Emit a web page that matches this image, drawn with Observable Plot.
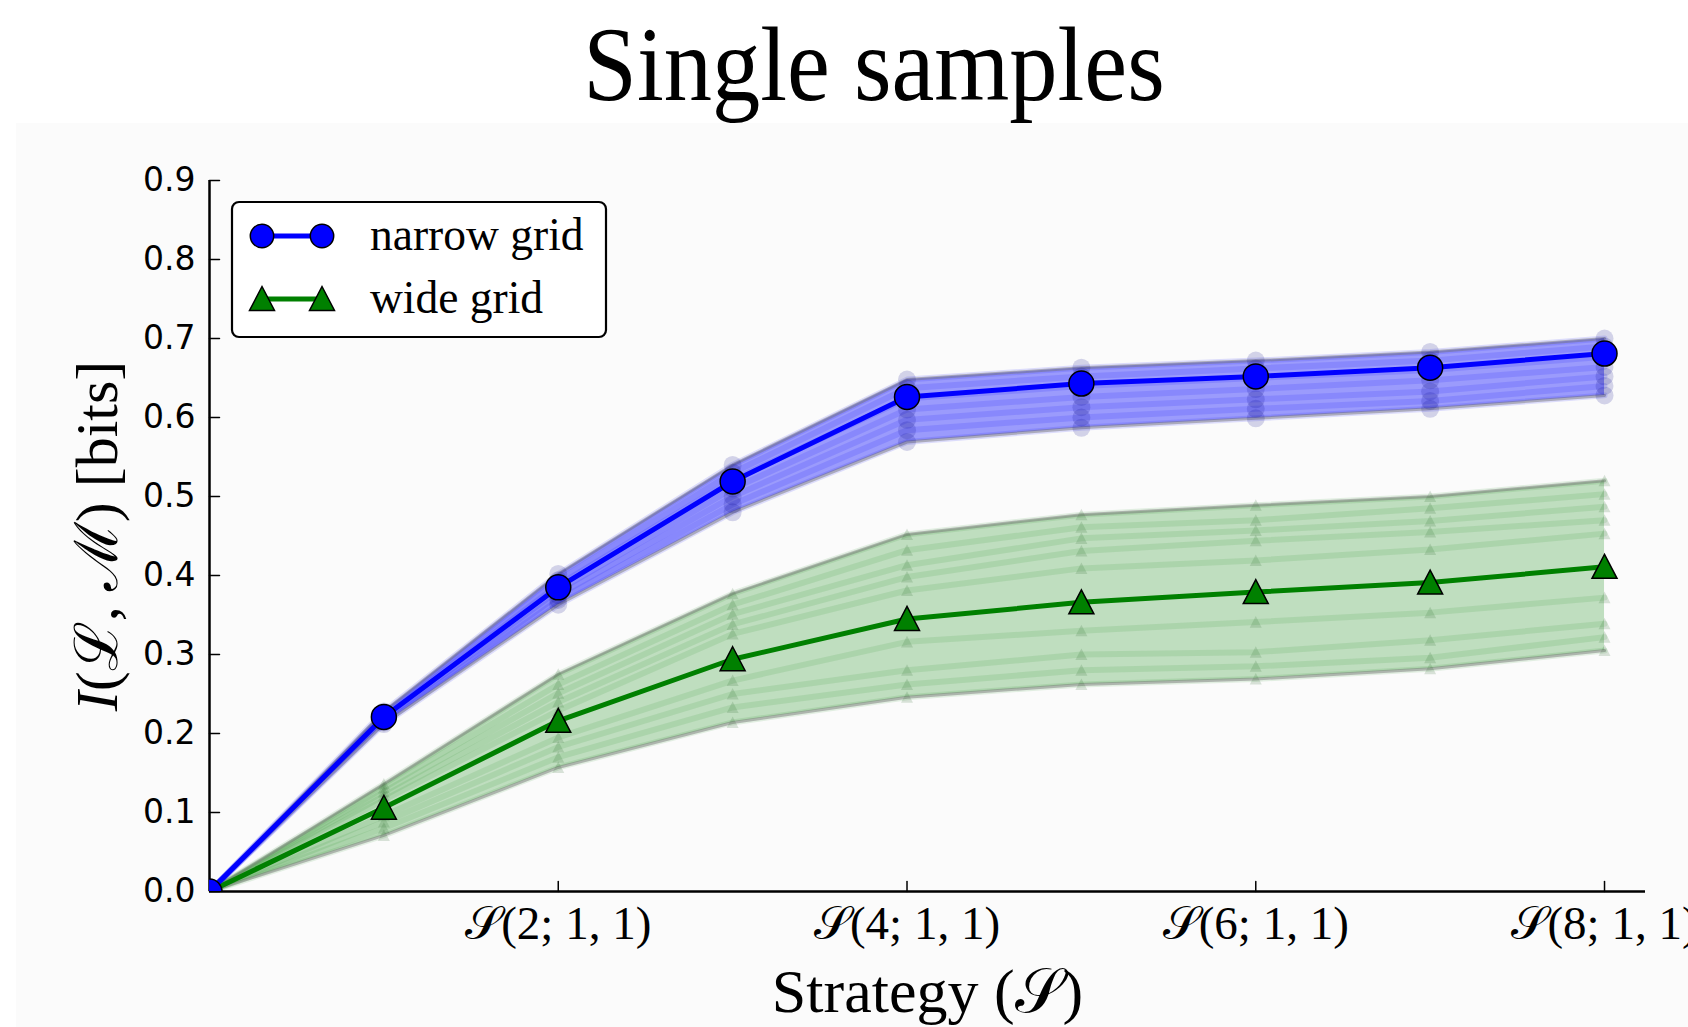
<!DOCTYPE html>
<html>
<head>
<meta charset="utf-8">
<script src="https://cdn.jsdelivr.net/npm/d3@7"></script>
<script src="https://cdn.jsdelivr.net/npm/@observablehq/plot@0.6"></script>
<style>
  html, body { margin: 0; padding: 0; background: #ffffff; }
  #wrap { position: relative; width: 1688px; height: 1027px; overflow: hidden; background: #ffffff; }
  #bgpanel { position: absolute; left: 16px; top: 123px; right: 0; bottom: 0; background: #fbfbfb; }
  #title { position: absolute; left: 874px; top: 12px; transform: translateX(-50%) scaleX(0.91); transform-origin: center; white-space: nowrap;
           font-family: "Liberation Serif", "DejaVu Serif", serif; font-size: 106px; line-height: 106px; color: #000; }
  #chart { position: absolute; left: 0; top: 140px; }
  #legend { position: absolute; left: 231px; top: 201px; }
  svg { overflow: visible; }
</style>
</head>
<body>
<div id="wrap">
  <div id="bgpanel"></div>
  <div id="title"></div>
  <div id="chart"></div>
  <div id="legend"></div>
</div>
<script>
// ---------------- data ----------------
const strategies = [0, 1, 2, 3, 4, 5, 6, 7, 8];
const seriesNames = ["narrow grid", "wide grid"];
const seriesColors = ["#0000ff", "#008000"];

// mean curves (bold lines with markers)
const narrowGrid = [0, 0.221, 0.385, 0.519, 0.626, 0.643, 0.652, 0.663, 0.681];
const wideGrid   = [0, 0.106, 0.216, 0.294, 0.345, 0.366, 0.379, 0.391, 0.411];

// faint individual sample curves (read approximately from the band)
const narrowSamples = [
  [0, 0.228, 0.402, 0.540, 0.648, 0.663, 0.672, 0.683, 0.700],
  [0, 0.225, 0.394, 0.530, 0.637, 0.652, 0.662, 0.672, 0.690],
  [0, 0.222, 0.388, 0.521, 0.624, 0.640, 0.650, 0.660, 0.677],
  [0, 0.219, 0.381, 0.510, 0.610, 0.626, 0.636, 0.647, 0.664],
  [0, 0.216, 0.375, 0.500, 0.597, 0.613, 0.623, 0.633, 0.652],
  [0, 0.214, 0.369, 0.490, 0.584, 0.600, 0.611, 0.621, 0.640],
  [0, 0.212, 0.363, 0.480, 0.569, 0.587, 0.599, 0.611, 0.628]
];
const wideSamples = [
  [0, 0.136, 0.275, 0.377, 0.452, 0.477, 0.489, 0.500, 0.520],
  [0, 0.131, 0.262, 0.363, 0.432, 0.461, 0.470, 0.485, 0.503],
  [0, 0.126, 0.251, 0.351, 0.413, 0.447, 0.457, 0.469, 0.487],
  [0, 0.121, 0.240, 0.338, 0.398, 0.431, 0.444, 0.455, 0.470],
  [0, 0.116, 0.229, 0.326, 0.381, 0.409, 0.419, 0.433, 0.453],
  [0, 0.096, 0.195, 0.267, 0.316, 0.330, 0.341, 0.353, 0.372],
  [0, 0.088, 0.183, 0.250, 0.280, 0.300, 0.303, 0.318, 0.339],
  [0, 0.080, 0.170, 0.233, 0.262, 0.280, 0.285, 0.296, 0.322],
  [0, 0.071, 0.157, 0.214, 0.246, 0.262, 0.269, 0.282, 0.305]
];

const xTickValues = [2, 4, 6, 8];
const xTickLabels = ["𝒮(2; 1, 1)", "𝒮(4; 1, 1)", "𝒮(6; 1, 1)", "𝒮(8; 1, 1)"];
const yTickValues = [0, 0.1, 0.2, 0.3, 0.4, 0.5, 0.6, 0.7, 0.8, 0.9];
const yTickLabels = ["0.0", "0.1", "0.2", "0.3", "0.4", "0.5", "0.6", "0.7", "0.8", "0.9"];
const titleText = "Single samples";
const xLabelText = "Strategy (𝒮)";
const yLabelText = "I(ℒ, ℳ) [bits]";

// ---------------- helpers ----------------
const serif = "'Liberation Serif', 'DejaVu Serif', serif";
const sans = "'DejaVu Sans', sans-serif";

const meanRows = (vals) => vals.map((v, i) => ({x: strategies[i], y: v}));
const sampleRows = (samples, name) => samples.flatMap((vals, k) => vals.map((v, i) => ({x: strategies[i], y: v, k: name + k})));
const bandRows = (samples) => strategies.map((s, i) => ({x: s, lo: d3.min(samples, r => r[i]), hi: d3.max(samples, r => r[i])}));

const triangleUp = {
  draw(context, size) {
    const r = Math.sqrt(size / Math.PI);
    context.moveTo(0, -r);
    context.lineTo(r, r * 0.92);
    context.lineTo(-r, r * 0.92);
    context.closePath();
  }
};
const tickShape = { draw(context, l) { context.moveTo(0, 0); context.lineTo(0, -l); } };

const narrowMean = meanRows(narrowGrid);
const wideMean = meanRows(wideGrid);
const narrowS = sampleRows(narrowSamples, "n");
const wideS = sampleRows(wideSamples, "w");
const narrowBand = bandRows(narrowSamples);
const wideBand = bandRows(wideSamples);

const [blue, green] = seriesColors;

const plot = Plot.plot({
  width: 1688,
  height: 887,
  marginLeft: 209,
  marginRight: 43,
  marginTop: 40,
  marginBottom: 136,
  x: {domain: [0, 8.235], axis: null},
  y: {domain: [0, 0.9], axis: null},
  style: {background: "transparent", overflow: "visible"},
  marks: [
    // bands
    Plot.areaY(wideBand, {x: "x", y1: "lo", y2: "hi", fill: green, fillOpacity: 0.24, clip: true}),
    Plot.areaY(narrowBand, {x: "x", y1: "lo", y2: "hi", fill: blue, fillOpacity: 0.38, clip: true}),
    // sample streaks
    Plot.line(wideS, {x: "x", y: "y", z: "k", stroke: green, strokeOpacity: 0.10, strokeWidth: 6, clip: true}),
    Plot.line(narrowS, {x: "x", y: "y", z: "k", stroke: blue, strokeOpacity: 0.12, strokeWidth: 6, clip: true}),
    // band edges
    Plot.line(wideBand, {x: "x", y: "hi", stroke: "#6e6e6e", strokeOpacity: 0.45, strokeWidth: 3, clip: true}),
    Plot.line(wideBand, {x: "x", y: "lo", stroke: "#6e6e6e", strokeOpacity: 0.45, strokeWidth: 3, clip: true}),
    Plot.line(narrowBand, {x: "x", y: "hi", stroke: "#6e6e6e", strokeOpacity: 0.45, strokeWidth: 3, clip: true}),
    Plot.line(narrowBand, {x: "x", y: "lo", stroke: "#6e6e6e", strokeOpacity: 0.45, strokeWidth: 3, clip: true}),
    // faint sample markers
    Plot.dot(wideS.filter(d => d.x > 0), {x: "x", y: "y", symbol: triangleUp, r: 6, fill: "#1f5f1f", fillOpacity: 0.16, stroke: "none", clip: true}),
    Plot.dot(narrowS.filter(d => d.x > 0), {x: "x", y: "y", r: 9, fill: "#00008a", fillOpacity: 0.16, stroke: "none", clip: true}),
    // spines
    Plot.ruleX([0], {stroke: "#000", strokeWidth: 2.5}),
    Plot.ruleY([0], {stroke: "#000", strokeWidth: 2.5}),
    // inward ticks
    Plot.vector(yTickValues, {y: d => d, frameAnchor: "left", length: 10, rotate: 90, anchor: "start", shape: tickShape, stroke: "#000", strokeWidth: 1.5}),
    Plot.vector(xTickValues, {x: d => d, frameAnchor: "bottom", length: 10, rotate: 0, anchor: "start", shape: tickShape, stroke: "#000", strokeWidth: 1.5}),
    // tick labels
    Plot.axisY(yTickValues, {tickSize: 0, tickPadding: 14, tickFormat: (d, i) => yTickLabels[i], fontSize: 33, fontFamily: sans, fill: "#000", label: null}),
    Plot.axisX(xTickValues, {tickSize: 0, tickPadding: 14, tickFormat: (d, i) => xTickLabels[i], fontSize: 47, fontFamily: serif, fill: "#000", label: null}),
    // main curves
    Plot.line(wideMean, {x: "x", y: "y", stroke: green, strokeWidth: 5, clip: true}),
    Plot.line(narrowMean, {x: "x", y: "y", stroke: blue, strokeWidth: 5, clip: true}),
    Plot.dot(wideMean, {x: "x", y: "y", symbol: triangleUp, r: 12.5, fill: green, stroke: "#000", strokeWidth: 1.5, clip: true}),
    Plot.dot(narrowMean, {x: "x", y: "y", r: 12.5, fill: blue, stroke: "#000", strokeWidth: 1.5, clip: true}),
    // axis titles
    Plot.text([xLabelText], {text: d => d, frameAnchor: "bottom", dy: 101, textAnchor: "middle", lineAnchor: "middle", fontSize: 62, fontFamily: serif, fill: "#000"}),
    Plot.text([yLabelText], {text: d => d, frameAnchor: "left", dx: -112, rotate: -90, textAnchor: "middle", lineAnchor: "middle", fontSize: 60, fontFamily: serif, fill: "#000"})
  ]
});
document.getElementById("chart").appendChild(plot);

// italic I in the y label
plot.querySelectorAll("text").forEach(t => {
  if (t.textContent === yLabelText) {
    t.textContent = "";
    const ns = "http://www.w3.org/2000/svg";
    const a = document.createElementNS(ns, "tspan");
    a.setAttribute("font-style", "italic");
    a.textContent = yLabelText.slice(0, 1);
    const b = document.createElementNS(ns, "tspan");
    b.textContent = yLabelText.slice(1);
    t.appendChild(a); t.appendChild(b);
  }
});

// title
document.getElementById("title").textContent = titleText;

// legend built from series arrays
const lg = d3.select("#legend").append("svg").attr("width", 375).attr("height", 137);
lg.append("rect").attr("x", 1).attr("y", 1).attr("width", 374).attr("height", 135)
  .attr("rx", 7).attr("fill", "#fff").attr("stroke", "#000").attr("stroke-width", 2.2);
seriesNames.forEach((name, i) => {
  const cy = 35 + i * 63;
  const g = lg.append("g");
  g.append("line").attr("x1", 31).attr("x2", 91).attr("y1", cy).attr("y2", cy)
    .attr("stroke", seriesColors[i]).attr("stroke-width", 5);
  [31, 91].forEach(cx => {
    if (i === 0) {
      g.append("circle").attr("cx", cx).attr("cy", cy).attr("r", 11.7)
        .attr("fill", seriesColors[i]).attr("stroke", "#000").attr("stroke-width", 1.5);
    } else {
      const p = d3.path(); triangleUp.draw(p, Math.PI * 12.5 * 12.5);
      g.append("path").attr("d", p.toString()).attr("transform", `translate(${cx},${cy})`)
        .attr("fill", seriesColors[i]).attr("stroke", "#000").attr("stroke-width", 1.5);
    }
  });
  g.append("text").attr("x", 139).attr("y", cy + 14).attr("font-family", serif).attr("font-size", 45.5)
    .attr("fill", "#000").text(name);
});
</script>
</body>
</html>
